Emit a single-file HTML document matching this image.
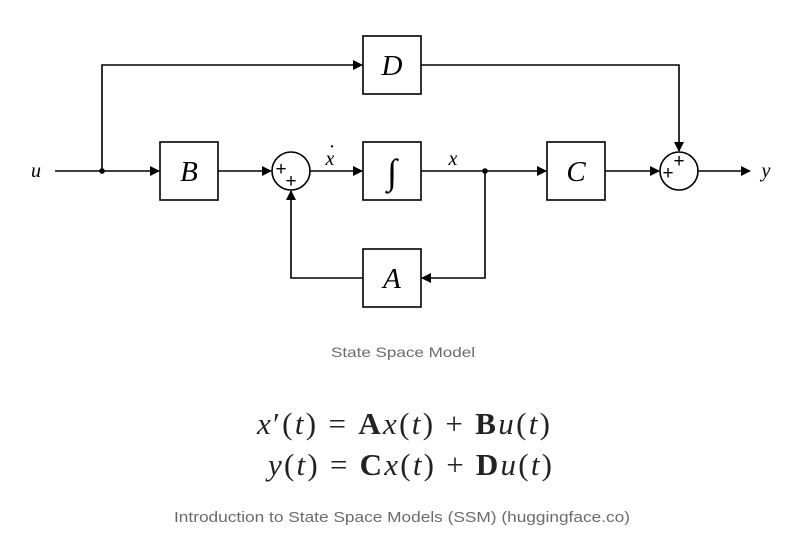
<!DOCTYPE html>
<html><head><meta charset="utf-8"><style>
body{margin:0;background:#fff;width:800px;height:538px;overflow:hidden;font-family:"Liberation Sans",sans-serif}
svg{display:block}
</style></head><body>
<svg width="800" height="538" viewBox="0 0 800 538">
<defs><marker id="ar" markerWidth="10" markerHeight="10" refX="9" refY="5" orient="auto" markerUnits="userSpaceOnUse"><path d="M0,0 L10,5 L0,10 z" fill="#000"/></marker></defs>
<g stroke="#000" stroke-width="1.6" fill="none">
<line x1="55" y1="171" x2="159" y2="171" marker-end="url(#ar)"/>
<polyline points="102,171 102,65 362,65" marker-end="url(#ar)"/>
<line x1="218" y1="171" x2="271" y2="171" marker-end="url(#ar)"/>
<line x1="310" y1="171" x2="362" y2="171" marker-end="url(#ar)"/>
<line x1="421" y1="171" x2="546" y2="171" marker-end="url(#ar)"/>
<line x1="605" y1="171" x2="659" y2="171" marker-end="url(#ar)"/>
<line x1="698" y1="171" x2="750" y2="171" marker-end="url(#ar)"/>
<polyline points="485,171 485,278 422,278" marker-end="url(#ar)"/>
<polyline points="363,278 291,278 291,191" marker-end="url(#ar)"/>
<polyline points="421,65 679,65 679,151" marker-end="url(#ar)"/>
<rect x="160" y="142" width="58" height="58"/>
<rect x="363" y="142" width="58" height="58"/>
<rect x="547" y="142" width="58" height="58"/>
<rect x="363" y="36" width="58" height="58"/>
<rect x="363" y="249" width="58" height="58"/>
<circle cx="291" cy="171" r="19"/>
<circle cx="679" cy="171" r="19"/>
</g>
<circle cx="102" cy="171" r="2.8" fill="#000"/>
<circle cx="485" cy="171" r="2.8" fill="#000"/>
<g font-family="Liberation Serif,serif" font-style="italic" fill="#000" text-anchor="middle">
<text x="189" y="181" font-size="29">B</text>
<text x="392" y="184" font-size="36">∫</text>
<text x="576" y="181" font-size="29">C</text>
<text x="392" y="75" font-size="29">D</text>
<text x="392" y="288" font-size="29">A</text>
<text x="36" y="177" font-size="20">u</text>
<text x="766" y="177" font-size="20">y</text>
<text x="330" y="165" font-size="20">x</text>
<text x="332" y="153" font-size="20" font-style="normal">·</text>
<text x="453" y="165" font-size="20">x</text>
</g>
<g font-family="Liberation Sans,sans-serif" font-size="19" fill="#000" text-anchor="middle">
<text x="281" y="175">+</text><text x="291" y="187">+</text>
<text x="668" y="179">+</text><text x="679" y="167">+</text>
</g>
<text x="403" y="357" font-size="14" fill="#6b6b6b" text-anchor="middle" textLength="144" lengthAdjust="spacingAndGlyphs">State Space Model</text>
<g font-family="Liberation Serif,serif" font-size="31" fill="#222">
<text x="257" y="434" textLength="293"><tspan font-style="italic">x</tspan>′(<tspan font-style="italic">t</tspan>) = <tspan font-weight="bold">A</tspan><tspan font-style="italic">x</tspan>(<tspan font-style="italic">t</tspan>) + <tspan font-weight="bold">B</tspan><tspan font-style="italic">u</tspan>(<tspan font-style="italic">t</tspan>)</text>
<text x="268" y="475" textLength="284"><tspan font-style="italic">y</tspan>(<tspan font-style="italic">t</tspan>) = <tspan font-weight="bold">C</tspan><tspan font-style="italic">x</tspan>(<tspan font-style="italic">t</tspan>) + <tspan font-weight="bold">D</tspan><tspan font-style="italic">u</tspan>(<tspan font-style="italic">t</tspan>)</text>
</g>
<text x="174" y="522" font-size="15" fill="#6b6b6b" textLength="456" lengthAdjust="spacingAndGlyphs">Introduction to State Space Models (SSM) (huggingface.co)</text>
</svg>
</body></html>
